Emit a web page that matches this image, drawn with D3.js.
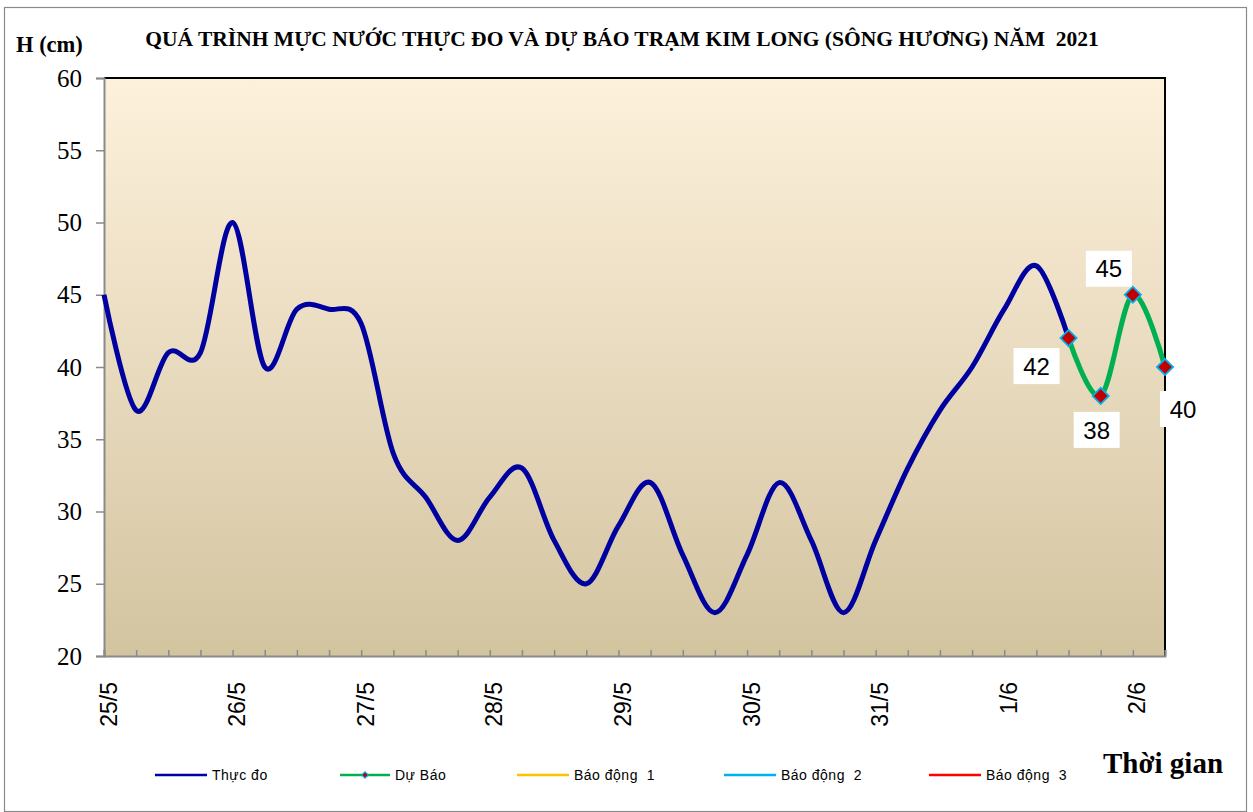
<!DOCTYPE html>
<html>
<head>
<meta charset="utf-8">
<script src="https://cdn.jsdelivr.net/npm/d3@7"></script>
<style>
  html, body { margin: 0; padding: 0; background: #fff; }
  svg { display: block; }
</style>
</head>
<body>
<svg id="chart" width="1253" height="812"></svg>
<script>
// ---- data ----
const days = ["25/5","26/5","27/5","28/5","29/5","30/5","31/5","1/6","2/6"];
const hours = ["1h","7h","13h","19h"];
// measured water level (cm), every 6 hours, starting 25/5
const thucDo = [45,37,41,41,50,40,44,44,43,34,31,28,31,33,28,25,29,32,27,23,27,32,28,23,28,33,37,40,44,47,42];
// forecast starting at the last measured point
const duBao = [42,38,45,40];
const duBaoStart = 30;
const yTicks = [20,25,30,35,40,45,50,55,60];
const legendNames = ["Thực đo","Dự Báo","Báo động  1","Báo động  2","Báo động  3"];
const legendColors = ["#0000A0","#00B050","#FFC000","#00B0F0","#FF0000"];
const labelOffsets = [[-32,28],[-4,34],[-24,-26],[18,42]];

// categories: every 6 hours
const categories = [];
days.forEach(d => hours.forEach(h => categories.push(d + " " + h)));
const cats = categories.slice(0, duBaoStart + duBao.length);

const svg = d3.select("#chart");
const L = 104, R = 1165, T = 78, B = 656;

// outer border
svg.append("rect").attr("x",4.5).attr("y",7.5).attr("width",1242).attr("height",804)
  .attr("fill","#fff").attr("stroke","#8a8a8a").attr("stroke-width",1.2);

const x = d3.scalePoint().domain(cats).range([L, R]);
const y = d3.scaleLinear().domain([20, 60]).range([B, T]);

// gradient background
const defs = svg.append("defs");
const grad = defs.append("linearGradient").attr("id","bg").attr("x1",0).attr("y1",0).attr("x2",0).attr("y2",1);
grad.append("stop").attr("offset","0%").attr("stop-color","#FDF1DC");
grad.append("stop").attr("offset","100%").attr("stop-color","#D3C4A0");
svg.append("rect").attr("x",L).attr("y",T).attr("width",R-L).attr("height",B-T).attr("fill","url(#bg)");

// top & right border
svg.append("line").attr("x1",L).attr("x2",R+1).attr("y1",T).attr("y2",T).attr("stroke","#000").attr("stroke-width",2);
svg.append("line").attr("x1",R).attr("x2",R).attr("y1",T).attr("y2",B).attr("stroke","#000").attr("stroke-width",2);

// y axis
const yAxis = d3.axisLeft(y).tickValues(yTicks).tickSize(8).tickPadding(14).tickFormat(d3.format("d"));
const gy = svg.append("g").attr("transform",`translate(${L},0)`).call(yAxis);
gy.select(".domain").attr("stroke","#8a8a8a").attr("stroke-width",2);
gy.selectAll(".tick line").attr("stroke","#8a8a8a").attr("stroke-width",1.5);
gy.selectAll(".tick text").attr("font-family","'Liberation Serif', serif").attr("font-size",25).attr("fill","#000");

// x axis
const xAxis = d3.axisBottom(x).tickSize(-6).tickPadding(0)
  .tickFormat((d,i) => d.endsWith(" " + hours[0]) ? d.split(" ")[0] : "");
const gx = svg.append("g").attr("transform",`translate(0,${B})`).call(xAxis);
gx.select(".domain").attr("stroke","#8a8a8a").attr("stroke-width",2);
gx.selectAll(".tick line").attr("stroke","#8a8a8a").attr("stroke-width",1.5);
gx.selectAll(".tick text")
  .attr("font-family","'Liberation Sans', Arial, sans-serif").attr("font-size",23).attr("fill","#000")
  .attr("text-anchor","end").attr("dy",0).attr("y",0)
  .attr("transform","translate(12,26) rotate(-90)");

// lines
const curve = d3.curveCardinal.tension(0);
const line = d3.line().x(d => x(cats[d.i])).y(d => y(d.v)).curve(curve);
const measured = thucDo.map((v,i) => ({i, v}));
const forecast = duBao.map((v,k) => ({i: duBaoStart + k, v}));

svg.append("path").datum(measured).attr("d", line)
  .attr("fill","none").attr("stroke","#0000A0").attr("stroke-width",5).attr("stroke-linejoin","round");
svg.append("path").datum(forecast).attr("d", line)
  .attr("fill","none").attr("stroke","#00B050").attr("stroke-width",5).attr("stroke-linejoin","round");

const diamond = d3.symbol().type(d3.symbolSquare).size(130);
svg.selectAll(".mk").data(forecast).join("path").attr("class","mk")
  .attr("d", diamond)
  .attr("transform", d => `translate(${x(cats[d.i])},${y(d.v)}) rotate(45)`)
  .attr("fill","#C00000").attr("stroke","#00B0F0").attr("stroke-width",1.8);

// data labels
const lab = svg.selectAll(".lab").data(forecast).join("g").attr("class","lab")
  .attr("transform",(d,k) => `translate(${x(cats[d.i]) + labelOffsets[k][0]},${y(d.v) + labelOffsets[k][1]})`);
lab.append("rect").attr("x",-23).attr("y",-18).attr("width",46).attr("height",36).attr("fill","#fff");
lab.append("text").text(d => d.v).attr("text-anchor","middle").attr("dy","0.36em")
  .attr("font-family","'Liberation Sans', Arial, sans-serif").attr("font-size",24).attr("fill","#000");

// titles
svg.append("text").attr("x",622).attr("y",46).attr("text-anchor","middle")
  .attr("font-family","'Liberation Serif', serif").attr("font-weight","bold").attr("font-size",21.5)
  .style("white-space","pre")
  .text("QUÁ TRÌNH MỰC NƯỚC THỰC ĐO VÀ DỰ BÁO TRẠM KIM LONG (SÔNG HƯƠNG) NĂM  2021");
svg.append("text").attr("x",16).attr("y",52)
  .attr("font-family","'Liberation Serif', serif").attr("font-weight","bold").attr("font-size",22.5)
  .text("H (cm)");
svg.append("text").attr("x",1103).attr("y",773)
  .attr("font-family","'Liberation Serif', serif").attr("font-weight","bold").attr("font-size",29)
  .text("Thời gian");

// legend
const legX = [155, 340, 517, 724, 929];
const legW = [52, 50, 52, 52, 52];
const leg = svg.selectAll(".leg").data(legendNames).join("g").attr("class","leg")
  .attr("transform",(d,i) => `translate(${legX[i]},775)`);
leg.append("line").attr("x1",0).attr("x2",(d,i)=>legW[i]).attr("y1",0).attr("y2",0)
  .attr("stroke",(d,i)=>legendColors[i]).attr("stroke-width",2.5);
leg.filter((d,i)=>i===1).append("path").attr("d", d3.symbol().type(d3.symbolSquare).size(22))
  .attr("transform",`translate(25,0) rotate(45)`).attr("fill","#C00000").attr("stroke","#00B0F0").attr("stroke-width",1);
leg.append("text").attr("x",(d,i)=>legW[i]+5).attr("y",5)
  .attr("font-family","'Liberation Sans', Arial, sans-serif").attr("font-size",14).attr("letter-spacing",0.5)
  .style("white-space","pre").text(d=>d);
</script>
</body>
</html>
